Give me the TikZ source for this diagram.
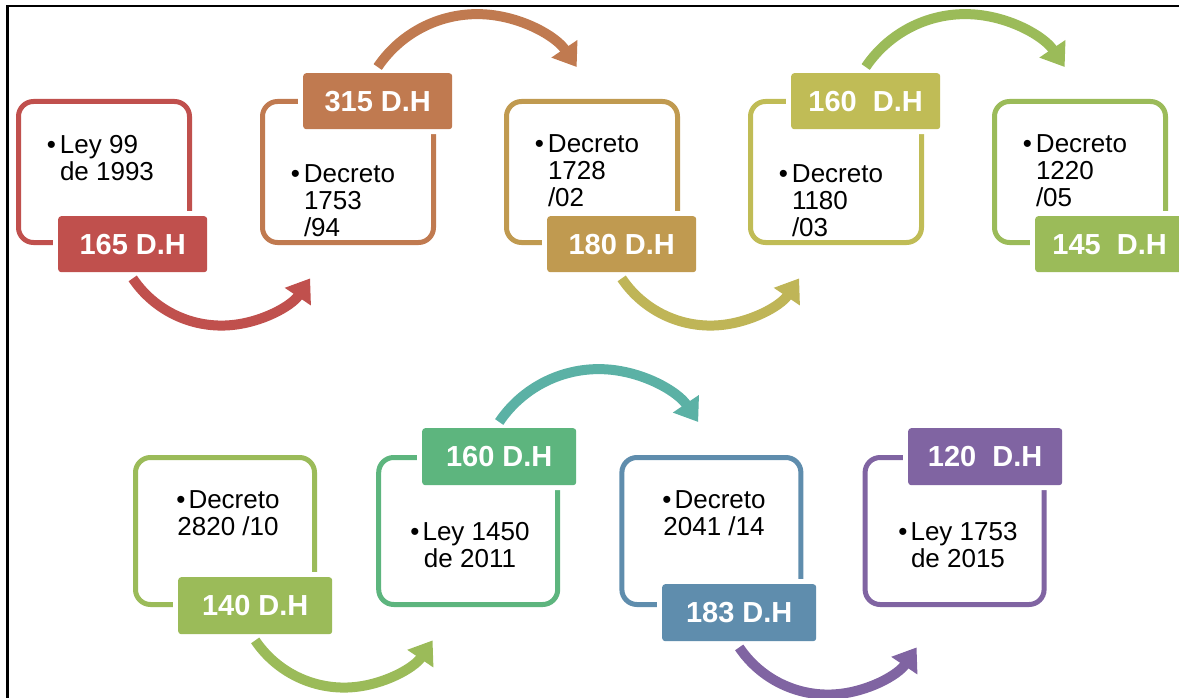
\documentclass[tikz,border=0pt]{standalone}
\usepackage{fontspec}
\setmainfont{Liberation Sans}
\usepackage{tikz}
\usetikzlibrary{arrows.meta, calc}

\definecolor{stageRed}{HTML}{C0504D}
\definecolor{stageOrange}{HTML}{C07A50}
\definecolor{stageGold}{HTML}{C09A50}
\definecolor{stageOlive}{HTML}{C0BC56}
\definecolor{stageGreen}{HTML}{9BBB59}
\definecolor{stageJade}{HTML}{5DB57E}
\definecolor{stageBlue}{HTML}{5F8DAD}
\definecolor{stagePurple}{HTML}{8064A2}
\definecolor{arcKhaki}{HTML}{BFB557}
\definecolor{arcTeal}{HTML}{5BB1A5}

\newcommand{\ruleFont}{\fontsize{26}{27}\selectfont}
\newcommand{\hoursFont}{\fontsize{29}{30}\selectfont\bfseries}

\tikzset{
  stageBox/.style={draw=#1, line width=5pt, rounded corners=15pt, inner sep=0pt, outer sep=0pt,
                   minimum width=171pt, minimum height=141pt, anchor=north west},
  lowBox/.style={stageBox=#1, minimum width=179pt, minimum height=147pt},
  hoursTag/.style={fill=#1, preaction={draw=white, line width=10pt}, rounded corners=3pt,
                   text=white, font=\hoursFont, inner sep=0pt, minimum width=149pt,
                   minimum height=56pt, anchor=north west},
  lowTag/.style={hoursTag=#1, minimum width=154pt, minimum height=57pt},
  ruleText/.style={font=\ruleFont, inner sep=0pt, outer sep=0pt, align=left, anchor=north west},
  lowText/.style={font=\ruleFont, inner sep=0pt, outer sep=0pt, align=center, anchor=north},
  stepArc/.style={draw=#1, line width=10pt, -{Triangle[width=30pt, length=22pt]}},
}

\begin{document}
\begin{tikzpicture}[x=1pt, y=-1pt]
  \useasboundingbox (0,0) rectangle (1179,698);
  \draw[line width=2.5pt] (7.5,705) -- (7.5,6) -- (1185,6);

  % first row
  \node[stageBox=stageRed]    (box1) at (18.5,101.5)  {};
  \node[stageBox=stageOrange] (box2) at (262.5,101.5) {};
  \node[stageBox=stageGold]   (box3) at (506.5,101.5) {};
  \node[stageBox=stageOlive]  (box4) at (750.5,101.5) {};
  \node[stageBox=stageGreen]  (box5) at (994.5,101.5) {};

  \node[ruleText] (text1) at (60,135)   {\llap{•\hspace{4pt}}Ley 99\\de 1993};
  \node[ruleText] (text2) at (304,165)  {\llap{•\hspace{4pt}}Decreto\\1753\\/94};
  \node[ruleText] (text3) at (548,135)  {\llap{•\hspace{4pt}}Decreto\\1728\\/02};
  \node[ruleText] (text4) at (792,165)  {\llap{•\hspace{4pt}}Decreto\\1180\\/03};
  \node[ruleText] (text5) at (1036,135) {\llap{•\hspace{4pt}}Decreto\\1220\\/05};

  \node[hoursTag=stageRed]    (tag1) at (58,216)   {165 D.H};
  \node[hoursTag=stageOrange] (tag2) at (303,73)   {315 D.H};
  \node[hoursTag=stageGold]   (tag3) at (547,216)  {180 D.H};
  \node[hoursTag=stageOlive]  (tag4) at (791,73)   {160\ \ D.H};
  \node[hoursTag=stageGreen]  (tag5) at (1035,216) {145\ \ D.H};

  \draw[stepArc=stageRed]    ([yshift=-6pt]tag1.south) arc[start angle=214, end angle=326, radius=107pt];
  \draw[stepArc=stageOrange] ([yshift=6pt]tag2.north)  arc[start angle=146, end angle=34, radius=120pt];
  \draw[stepArc=arcKhaki]    ([yshift=-6pt]tag3.south) arc[start angle=214, end angle=326, radius=107pt];
  \draw[stepArc=stageGreen]  ([yshift=6pt]tag4.north)  arc[start angle=146, end angle=34, radius=120pt];

  % second row
  \node[lowBox=stageGreen]  (box6) at (135.5,457.5) {};
  \node[lowBox=stageJade]   (box7) at (378.7,457.5) {};
  \node[lowBox=stageBlue]   (box8) at (621.9,457.5) {};
  \node[lowBox=stagePurple] (box9) at (865.1,457.5) {};

  \node[lowText] (text6) at (228,491)   {•\hspace{3pt}Decreto\\2820 /10};
  \node[lowText] (text7) at (470,522)   {•\hspace{3pt}Ley 1450\\de 2011};
  \node[lowText] (text8) at (714,491)   {•\hspace{3pt}Decreto\\2041 /14};
  \node[lowText] (text9) at (958,522)   {•\hspace{3pt}Ley 1753\\de 2015};

  \node[lowTag=stageGreen]  (tag6) at (178,577) {140 D.H};
  \node[lowTag=stageJade]   (tag7) at (422,428) {160 D.H};
  \node[lowTag=stageBlue]   (tag8) at (662,584) {183 D.H};
  \node[lowTag=stagePurple] (tag9) at (908,428) {120\ \ D.H};

  \draw[stepArc=stageGreen]  ([yshift=-6pt]tag6.south) arc[start angle=214, end angle=326, radius=107pt];
  \draw[stepArc=arcTeal]     ([yshift=6pt]tag7.north)  arc[start angle=146, end angle=34, radius=120pt];
  \draw[stepArc=stagePurple] ([yshift=-6pt]tag8.south) arc[start angle=214, end angle=326, radius=107pt];
\end{tikzpicture}
\end{document}
